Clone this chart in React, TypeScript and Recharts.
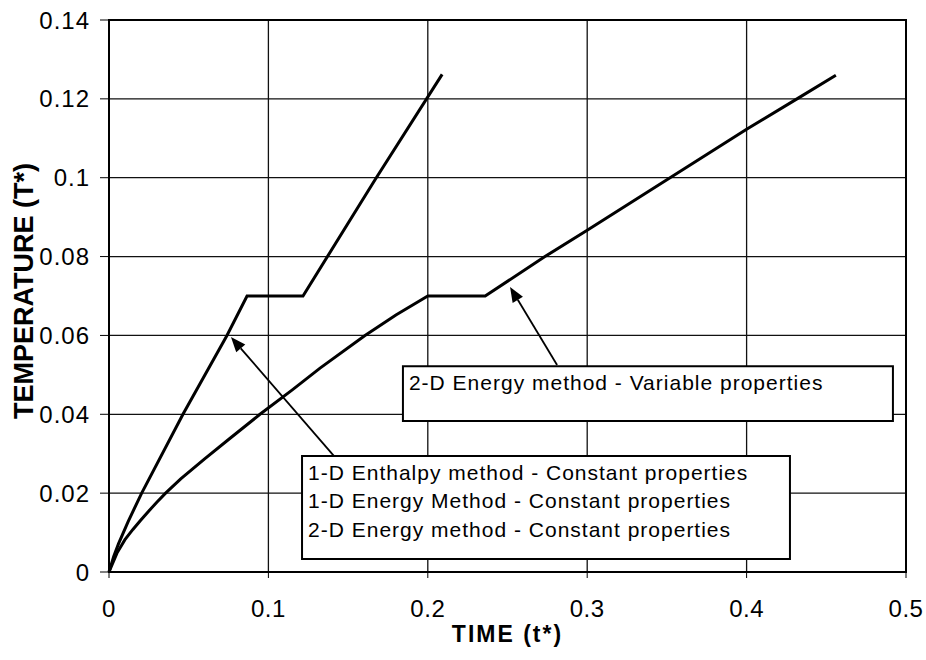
import { LineChart, Line, XAxis, YAxis, CartesianGrid, ReferenceArea, ReferenceLine } from 'recharts';

const xTicks = [0, 0.1, 0.2, 0.3, 0.4, 0.5];
const yTicks = [0, 0.02, 0.04, 0.06, 0.08, 0.1, 0.12, 0.14];

// constant properties: the 1-D enthalpy, 1-D energy and 2-D energy results lie on one curve
const constTime = [0, 0.003, 0.006, 0.012, 0.0205, 0.0464, 0.074, 0.0866, 0.1217, 0.1669, 0.209];
const constTemp = [0, 0.004, 0.0072, 0.0128, 0.02, 0.04, 0.06, 0.07, 0.07, 0.0995, 0.1262];

// 2-D energy method with variable properties
const varTime = [0, 0.005, 0.01, 0.015, 0.02, 0.025, 0.03, 0.0355, 0.045, 0.06, 0.075, 0.0947, 0.115, 0.1324, 0.1606, 0.18, 0.2, 0.236, 0.2735, 0.3, 0.35, 0.4, 0.4316, 0.456];
const varTemp = [0, 0.0048, 0.0082, 0.0108, 0.0132, 0.0155, 0.0177, 0.02, 0.0236, 0.0287, 0.0336, 0.04, 0.0462, 0.0517, 0.06, 0.0652, 0.07, 0.07, 0.08, 0.0867, 0.0995, 0.1123, 0.12, 0.126];

const constNote = [
  '1-D Enthalpy method - Constant properties',
  '1-D Energy Method - Constant properties',
  '2-D Energy method - Constant properties',
];
const varNote = ['2-D Energy method - Variable properties'];

const FONT = '"Liberation Sans", Arial, Helvetica, sans-serif';

const constData = constTime.map((t, i) => ({ t, v: constTemp[i] }));
const varData = varTime.map((t, i) => ({ t, v: varTemp[i] }));

// text block inside an annotation box
function NoteText({ viewBox, lines }: any) {
  const { x, y } = viewBox;
  return (
    <text fontFamily={FONT} fontSize={21} letterSpacing={1} fill="#000">
      {lines.map((s: string, i: number) => (
        <tspan key={i} x={x + 6} y={y + 23.5 + i * 28.5}>
          {s}
        </tspan>
      ))}
    </text>
  );
}

// leader line with a filled head at the second point
function Arrow(props: any) {
  const { x1, y1, x2, y2 } = props;
  const a = Math.atan2(y2 - y1, x2 - x1);
  const len = 15;
  const half = 6;
  const bx = x2 - len * Math.cos(a);
  const by = y2 - len * Math.sin(a);
  const pts = `${x2},${y2} ${bx - half * Math.sin(a)},${by + half * Math.cos(a)} ${bx + half * Math.sin(a)},${by - half * Math.cos(a)}`;
  return (
    <g>
      <line x1={x1} y1={y1} x2={bx} y2={by} stroke="#000" strokeWidth={1.8} />
      <polygon points={pts} fill="#000" />
    </g>
  );
}

// x tick labels sit well below the axis
function XTick({ x, payload }: any) {
  return (
    <text x={x} y={617} textAnchor="middle" fontFamily={FONT} fontSize={24} letterSpacing={0.5} fill="#000">
      {payload.value}
    </text>
  );
}

function YTitle({ viewBox }: any) {
  const cy = viewBox.y + viewBox.height / 2 - 5;
  return (
    <text
      transform={`translate(33, ${cy}) rotate(-90)`}
      textAnchor="middle"
      fontFamily={FONT}
      fontSize={27}
      fontWeight="bold"
      fill="#000"
    >
      TEMPERATURE (T*)
    </text>
  );
}

export default function App() {
  return (
    <div style={{ position: 'absolute', left: 0, top: 0, width: 926, height: 660, background: '#fff' }}>
      <LineChart width={926} height={660} margin={{ top: 20, right: 20, left: 0, bottom: 0 }}>
        <CartesianGrid stroke="#111" strokeWidth={1.3} />
        <XAxis
          type="number"
          dataKey="t"
          domain={[0, 0.5]}
          ticks={xTicks}
          height={88}
          tickSize={6}
          stroke="#000"
          axisLine={{ stroke: '#000', strokeWidth: 2 }}
          tick={<XTick />}
          label={{
            value: 'TIME (t*)',
            position: 'insideBottom',
            offset: 18,
            fill: '#000',
            fontSize: 23,
            fontWeight: 'bold',
            fontFamily: FONT,
            letterSpacing: 2,
          }}
        />
        <YAxis
          type="number"
          domain={[0, 0.14]}
          ticks={yTicks}
          width={109}
          tickSize={9}
          tickMargin={10}
          stroke="#000"
          axisLine={{ stroke: '#000', strokeWidth: 2 }}
          tick={{ fill: '#000', fontSize: 24, fontFamily: FONT, letterSpacing: 1 }}
          label={<YTitle />}
        />
        <ReferenceArea x1={0} x2={0.5} y1={0} y2={0.14} fill="none" stroke="#000" strokeWidth={2} />
        <Line
          data={constData}
          dataKey="v"
          type="linear"
          stroke="#000"
          strokeWidth={3}
          dot={false}
          isAnimationActive={false}
        />
        <Line
          data={varData}
          dataKey="v"
          type="linear"
          stroke="#000"
          strokeWidth={3}
          dot={false}
          isAnimationActive={false}
        />
        <ReferenceArea
          x1={0.1844}
          x2={0.4918}
          y1={0.0383}
          y2={0.0522}
          fill="#fff"
          fillOpacity={1}
          stroke="#000"
          strokeWidth={2}
          label={<NoteText lines={varNote} />}
        />
        <ReferenceArea
          x1={0.1211}
          x2={0.4272}
          y1={0.0033}
          y2={0.0294}
          fill="#fff"
          fillOpacity={1}
          stroke="#000"
          strokeWidth={2}
          label={<NoteText lines={constNote} />}
        />
        <ReferenceLine
          segment={[{ x: 0.1412, y: 0.0294 }, { x: 0.0765, y: 0.0596 }]}
          shape={<Arrow />}
        />
        <ReferenceLine
          segment={[{ x: 0.2811, y: 0.0525 }, { x: 0.2516, y: 0.0723 }]}
          shape={<Arrow />}
        />
      </LineChart>
    </div>
  );
}
